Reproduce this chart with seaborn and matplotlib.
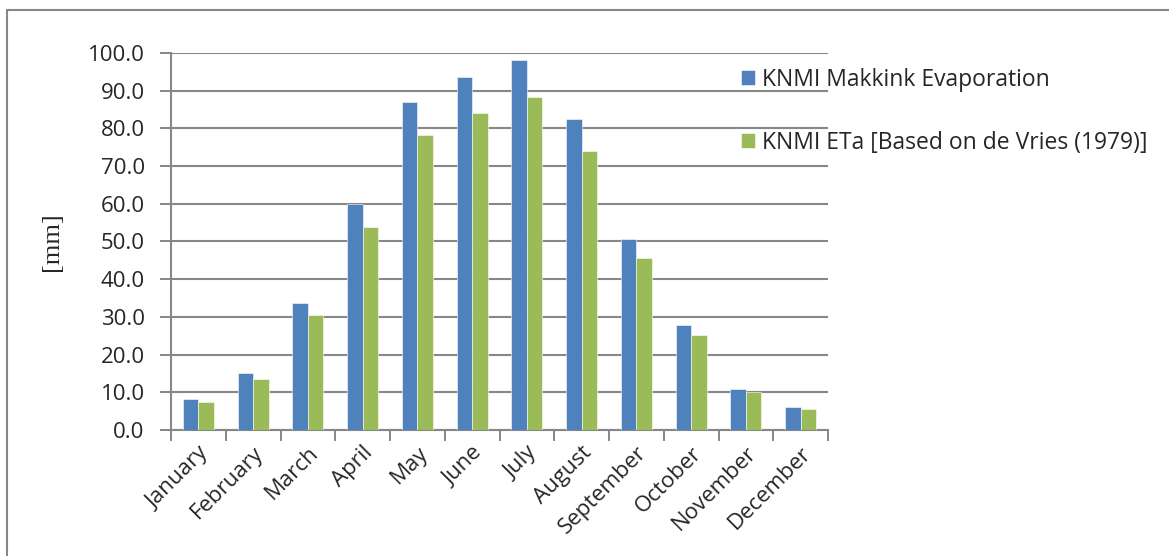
import matplotlib
matplotlib.use("Agg")
import matplotlib.pyplot as plt
from matplotlib.lines import Line2D
import seaborn as sns
import pandas as pd

months = ["January", "February", "March", "April", "May", "June", "July",
          "August", "September", "October", "November", "December"]
makkink = [8.2, 15.0, 33.8, 60.0, 86.9, 93.5, 98.1, 82.4, 50.7, 27.9, 11.0, 6.1]
eta = [7.4, 13.5, 30.4, 53.9, 78.2, 84.2, 88.3, 74.1, 45.7, 25.1, 10.0, 5.5]
series_names = ["KNMI Makkink Evaporation", "KNMI ETa [Based on de Vries (1979)]"]
yticks = [0, 10, 20, 30, 40, 50, 60, 70, 80, 90, 100]

df = pd.DataFrame({
    "month": months * 2,
    "value": makkink + eta,
    "series": [series_names[0]] * 12 + [series_names[1]] * 12,
})

sns.set_style("white")
plt.rcParams["font.family"] = ["Open Sans", "DejaVu Sans"]

grey = "#878787"
fig = plt.figure(figsize=(11.69, 5.56), dpi=100)
ax = fig.add_axes([0.1463, 0.2266, 0.5620, 0.6781])

sns.barplot(data=df, x="month", y="value", hue="series", order=months,
            hue_order=series_names, palette=["#4F81BD", "#9BBB59"],
            width=0.57, gap=0, edgecolor="white", linewidth=0.4,
            saturation=1, ax=ax, zorder=3)

ax.set_xlim(-0.5, 11.5)
ax.set_ylim(0, 100)
ax.set_yticks(yticks)
ax.set_yticklabels([f"{v:.1f}" for v in yticks], fontsize=16)
ax.set_xticks([i - 0.5 for i in range(13)], minor=False)
ax.set_xticklabels([])
ax.set_xticks(range(12), minor=True)
ax.set_xticklabels(months, minor=True, rotation=45, ha="right",
                   rotation_mode="anchor", fontsize=16)
ax.tick_params(axis="x", which="minor", length=0, pad=9)
ax.tick_params(axis="x", which="major", length=8, width=1.4, color=grey,
               direction="out", bottom=True)
ax.tick_params(axis="y", length=8, width=1.4, color=grey, direction="out",
               left=True, pad=11)

ax.grid(axis="y", color=grey, linewidth=1.5, zorder=0)
ax.set_axisbelow(True)
for side in ["top", "right"]:
    ax.spines[side].set_visible(False)
for side in ["left", "bottom"]:
    ax.spines[side].set_color(grey)
    ax.spines[side].set_linewidth(1.5)

ax.set_xlabel("")
ax.set_ylabel("[mm]", family="Liberation Serif", fontsize=19, labelpad=18)

ax.legend(loc="upper left", bbox_to_anchor=(0.853, 0.985), frameon=False,
          fontsize=16.5, labelspacing=1.7, handlelength=0.65, handleheight=0.65,
          handletextpad=0.3, borderaxespad=0)

# outer frame: top and left edges
fig.add_artist(Line2D([7 / 1169, 1.0], [1 - 10 / 556, 1 - 10 / 556],
                      transform=fig.transFigure, color=grey, linewidth=1.5))
fig.add_artist(Line2D([7 / 1169, 7 / 1169], [0.0, 1 - 10 / 556],
                      transform=fig.transFigure, color=grey, linewidth=1.5))

fig.savefig("out.png", dpi=100)
